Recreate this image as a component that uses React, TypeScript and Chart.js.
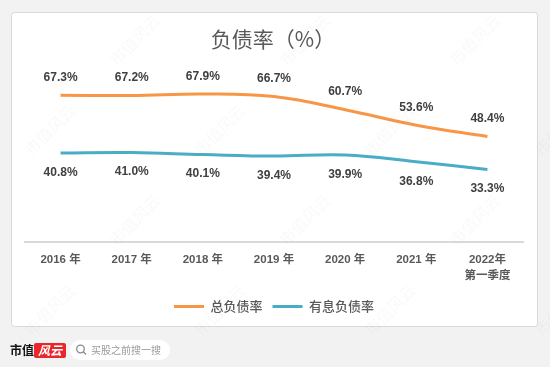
import React, { useEffect, useRef } from 'react';
import { Chart, registerables } from 'chart.js';

Chart.register(...registerables);

const categories: (string | string[])[] = ['2016 年', '2017 年', '2018 年', '2019 年', '2020 年', '2021 年', ['2022年', '第一季度']];
const totalDebtRatio = [67.3, 67.2, 67.9, 66.7, 60.7, 53.6, 48.4];
const interestDebtRatio = [40.8, 41.0, 40.1, 39.4, 39.9, 36.8, 33.3];
const seriesNames = ['总负债率', '有息负债率'];
const titleText = '负债率（%）';
const brandText = '市值';
const brandMark = '风云';
const searchHint = '买股之前搜一搜';
const watermarkText = '市值风云';

const W = 550;
const H = 367;
const ORANGE = '#F79646';
const BLUE = '#4BACC6';
const CJK = '"Noto Sans CJK SC", sans-serif';
const LATIN = '"Liberation Sans", "Noto Sans CJK SC", sans-serif';

function roundRect(ctx: CanvasRenderingContext2D, x: number, y: number, w: number, h: number, r: number) {
  ctx.beginPath();
  ctx.moveTo(x + r, y);
  ctx.lineTo(x + w - r, y);
  ctx.arcTo(x + w, y, x + w, y + r, r);
  ctx.lineTo(x + w, y + h - r);
  ctx.arcTo(x + w, y + h, x + w - r, y + h, r);
  ctx.lineTo(x + r, y + h);
  ctx.arcTo(x, y + h, x, y + h - r, r);
  ctx.lineTo(x, y + r);
  ctx.arcTo(x, y, x + r, y, r);
  ctx.closePath();
}

const framePlugin = {
  id: 'frame',
  beforeDraw(chart: any) {
    const ctx: CanvasRenderingContext2D = chart.ctx;
    ctx.save();
    ctx.fillStyle = '#f2f2f2';
    ctx.fillRect(0, 0, W, H);
    roundRect(ctx, 11.5, 12.5, 526, 314, 3);
    ctx.fillStyle = '#ffffff';
    ctx.fill();
    ctx.strokeStyle = '#d9d9d9';
    ctx.lineWidth = 1;
    ctx.stroke();

    // title
    ctx.fillStyle = '#595959';
    ctx.font = `21px ${CJK}`;
    ctx.textAlign = 'center';
    ctx.textBaseline = 'middle';
    ctx.fillText(titleText, 273, 39);

    // footer brand
    ctx.textAlign = 'left';
    ctx.fillStyle = '#111111';
    ctx.font = `bold 12px ${CJK}`;
    ctx.fillText(brandText, 10, 350);
    roundRect(ctx, 34, 343, 32, 15, 2);
    ctx.fillStyle = '#e8262b';
    ctx.fill();
    ctx.fillStyle = '#ffffff';
    ctx.font = `italic bold 12px ${CJK}`;
    ctx.textAlign = 'center';
    ctx.fillText(brandMark, 50, 350.5);

    // search pill
    roundRect(ctx, 70, 340, 100, 20, 10);
    ctx.fillStyle = '#ffffff';
    ctx.fill();
    ctx.strokeStyle = '#8a8a8a';
    ctx.lineWidth = 1.3;
    ctx.beginPath();
    ctx.arc(80.5, 349, 3.8, 0, Math.PI * 2);
    ctx.stroke();
    ctx.beginPath();
    ctx.moveTo(83.3, 351.8);
    ctx.lineTo(86, 354.5);
    ctx.stroke();
    ctx.fillStyle = '#9a9a9a';
    ctx.font = `10px ${CJK}`;
    ctx.textAlign = 'left';
    ctx.fillText(searchHint, 91, 350);
    ctx.restore();
  },
  afterDraw(chart: any) {
    const ctx: CanvasRenderingContext2D = chart.ctx;
    ctx.save();
    ctx.fillStyle = 'rgba(120,120,120,0.045)';
    ctx.font = `16px ${CJK}`;
    ctx.textAlign = 'center';
    ctx.textBaseline = 'middle';
    for (let row = 0; row < 5; row++) {
      for (let col = 0; col < 5; col++) {
        const x = 50 + col * 170 + (row % 2) * 85 - 85;
        const y = 40 + row * 90;
        ctx.save();
        ctx.translate(x, y);
        ctx.rotate(-Math.PI / 4);
        ctx.fillText(watermarkText, 0, 0);
        ctx.restore();
      }
    }
    ctx.restore();
  },
};

const dataLabelPlugin = {
  id: 'dataLabels',
  afterDatasetsDraw(chart: any) {
    const ctx: CanvasRenderingContext2D = chart.ctx;
    ctx.save();
    ctx.font = `bold 12px ${LATIN}`;
    ctx.fillStyle = '#404040';
    ctx.textAlign = 'center';
    ctx.textBaseline = 'middle';
    chart.data.datasets.forEach((ds: any, di: number) => {
      const meta = chart.getDatasetMeta(di);
      meta.data.forEach((pt: any, i: number) => {
        const v = ds.data[i] as number;
        const dy = di === 0 ? -17.5 : 19.5;
        ctx.fillText(v.toFixed(1) + '%', pt.x, pt.y + dy);
      });
    });
    ctx.restore();
  },
};

export default function App() {
  const ref = useRef<HTMLCanvasElement | null>(null);
  useEffect(() => {
    if (!ref.current) return;
    const chart = new Chart(ref.current, {
      type: 'line',
      data: {
        labels: categories as any,
        datasets: [
          {
            label: seriesNames[0],
            data: totalDebtRatio,
            borderColor: ORANGE,
            backgroundColor: ORANGE,
            borderWidth: 3,
            pointRadius: 0,
            tension: 0.4,
            fill: false,
          },
          {
            label: seriesNames[1],
            data: interestDebtRatio,
            borderColor: BLUE,
            backgroundColor: BLUE,
            borderWidth: 3,
            pointRadius: 0,
            tension: 0.4,
            fill: false,
          },
        ],
      },
      options: {
        responsive: false,
        animation: false,
        devicePixelRatio: 1,
        layout: { padding: { left: 25, right: 27, top: 24, bottom: 44 } },
        plugins: {
          title: { display: false },
          tooltip: { enabled: false },
          legend: {
            display: true,
            position: 'bottom',
            labels: {
              boxWidth: 30,
              boxHeight: 3,
              padding: 10,
              color: '#595959',
              font: { family: CJK, size: 13, weight: '500' },
              generateLabels: (c: any) =>
                c.data.datasets.map((ds: any, i: number) => ({
                  text: ds.label,
                  fillStyle: ds.borderColor,
                  strokeStyle: ds.borderColor,
                  lineWidth: 0,
                  hidden: false,
                  datasetIndex: i,
                  fontColor: '#595959',
                })),
            },
          },
        },
        scales: {
          x: {
            offset: true,
            grid: { display: false, drawTicks: false },
            border: { display: true, color: '#d9d9d9', width: 2 },
            ticks: {
              padding: 9,
              color: '#595959',
              maxRotation: 0,
              autoSkip: false,
              font: { family: LATIN, size: 11.5, weight: 'bold', lineHeight: 1.45 },
            },
            afterFit: (scale: any) => {
              scale.height = 48;
            },
          },
          y: {
            display: false,
            min: 0,
            max: 100,
          },
        },
      },
      plugins: [framePlugin, dataLabelPlugin],
    } as any);
    return () => chart.destroy();
  }, []);
  return (
    <div style={{ position: 'fixed', left: 0, top: 0, width: W, height: H }}>
      <canvas ref={ref} width={W} height={H} style={{ display: 'block', width: W, height: H }} />
    </div>
  );
}
